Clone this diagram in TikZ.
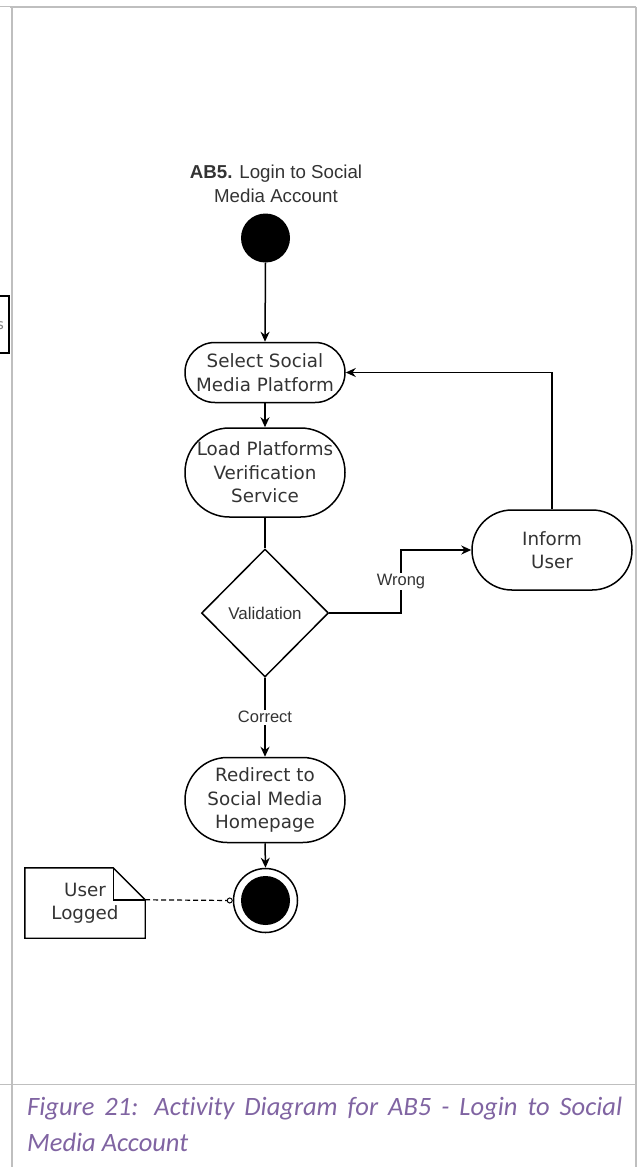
\documentclass[tikz,border=0pt]{standalone}
\usepackage{fontspec}
\usetikzlibrary{arrows.meta,shapes.geometric}
\newfontfamily\actfont{DejaVu Sans}
\newfontfamily\lblfont{Liberation Sans}
\newfontfamily\capfont[Ligatures=NoCommon]{Carlito}
\definecolor{framegray}{HTML}{BFBFBF}
\definecolor{txtgray}{HTML}{333333}
\definecolor{capviolet}{HTML}{8064A2}
\tikzset{
  flow/.style={line width=1.5pt, -{Stealth[length=10pt,width=9pt]}},
  plain/.style={line width=1.5pt},
  activity/.style={draw, line width=1.5pt, rectangle, minimum width=160pt, inner sep=0pt,
    align=center, text=txtgray, font=\actfont\fontsize{18.3}{23.5}\selectfont},
  lbl/.style={fill=white, inner sep=1.5pt, text=txtgray, font=\lblfont\fontsize{16.5}{20}\selectfont},
  frame/.style={draw=framegray, line width=1.4pt},
}
\begin{document}
\begin{tikzpicture}[x=1pt,y=-1pt]
\useasboundingbox (0,0) rectangle (637,1167);
\clip (0,0) rectangle (637,1167);

% page frame of the surrounding table
\draw[draw=framegray, line width=0.8pt] (0,6) -- (10,6);
\draw[frame] (10,6.8) -- (636,6.8);
\draw[frame] (11.8,6.8) -- (11.8,1167);
\draw[frame] (636,6.8) -- (636,1167);
\draw[frame] (0,1084.2) -- (637,1084.2);

% cut-off neighbour box at the left border
\draw[line width=1.5pt] (-5,296) -- (9,296) -- (9,353) -- (-5,353);
\node[anchor=east, inner sep=0pt, text=gray, font=\actfont\fontsize{14}{15}\selectfont] (cutlbl) at (4,326) {s};

% title
\node[align=center, text=txtgray, font=\lblfont\fontsize{18.7}{24}\selectfont] (title) at (276,184)
  {\textbf{AB5.} Login to Social\\Media Account};

% nodes
\node[circle, fill=black, minimum size=49pt, inner sep=0pt] (start) at (265.5,238) {};
\node[activity, minimum height=60pt, rounded corners=29.9pt] (sel) at (265,372.5) {Select Social\\Media Platform};
\node[activity, minimum height=89pt, rounded corners=44.4pt] (load) at (265,472.5) {Load Platforms\\Verification\\Service};
\node[draw, line width=1.5pt, diamond, minimum width=127pt, minimum height=128pt, inner sep=0pt,
  text=txtgray, font=\lblfont\fontsize{17}{20}\selectfont] (val) at (265,613) {Validation};
\node[activity, minimum height=80pt, rounded corners=39.9pt] (inf) at (552,550) {Inform\\User};
\node[activity, minimum height=85pt, rounded corners=42.4pt] (red) at (265,800) {Redirect to\\Social Media\\Homepage};
\node[circle, draw, line width=1.5pt, minimum size=64pt, inner sep=0pt] (fin) at (265.5,900.5) {};
\node[circle, fill=black, minimum size=49pt, inner sep=0pt] (finin) at (fin) {};

% note
\node[minimum width=120pt, minimum height=70pt, inner sep=0pt, align=center, text=txtgray,
  font=\actfont\fontsize{18.3}{23.5}\selectfont] (note) at (85,903) {User\\Logged};
\coordinate (fold) at ([xshift=-32pt]note.north east);
\coordinate (foldb) at ([yshift=-32pt]note.north east);
\draw[line width=1.4pt] (note.north west) -- (fold) -- (foldb) -- (note.south east) -- (note.south west) -- cycle;
\draw[line width=1.4pt] (fold) |- (foldb);

% connectors
\draw[flow] (start.south) -- (sel.north);
\draw[flow] (sel.south) -- (load.north);
\draw[plain] (load.south) -- (val.north);
\coordinate (wbend) at (401,613);
\draw[flow] (val.east) -- (wbend) |- node[pos=0.25, lbl] {Wrong} (inf.west);
\draw[flow] (inf.north) |- (sel.east);
\draw[flow] (val.south) -- node[lbl] {Correct} (red.north);
\draw[flow] (red.south) -- (fin.north);
\draw[line width=1.2pt, dash pattern=on 5pt off 3pt, -{Circle[open,length=6pt,width=6pt,line width=1pt]}] (foldb) -- (fin.west);

% caption
\node[anchor=north west, inner sep=0pt, text width=595pt, align=justify, text=capviolet,
  font=\capfont\itshape\fontsize{26.5}{36}\selectfont] (cap) at (27,1097)
  {Figure 21: Activity Diagram for AB5 - Login to Social\linebreak Media Account};
\end{tikzpicture}
\end{document}
